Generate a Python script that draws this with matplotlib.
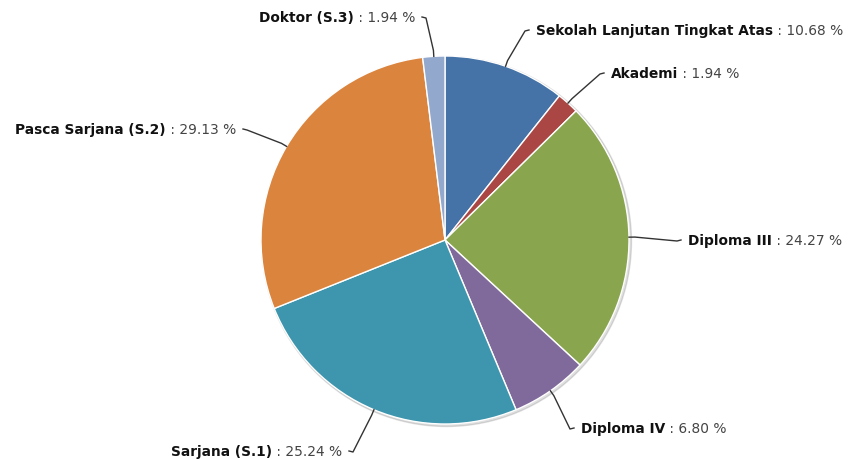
import numpy as np
import matplotlib
matplotlib.use("Agg")
import matplotlib.pyplot as plt

# data
labels = ["Sekolah Lanjutan Tingkat Atas", "Akademi", "Diploma III", "Diploma IV",
          "Sarjana (S.1)", "Pasca Sarjana (S.2)", "Doktor (S.3)"]
values = [10.68, 1.94, 24.27, 6.80, 25.24, 29.13, 1.94]
colors = ["#4572A7", "#AA4643", "#89A54E", "#80699B", "#3D96AE", "#DB843D", "#92A8CD"]

# where the labels sit (pixels, y down) and which side the text grows to
label_pos = [(536, 31, "left"), (611, 74, "left"), (688, 241, "left"), (581, 429, "left"),
             (342, 452, "right"), (236, 130, "right"), (415, 18, "right")]

W, H = 852, 460
cx, cy, r = 445, 241, 184

fig = plt.figure(figsize=(W / 100, H / 100), dpi=100)
ax = fig.add_axes([0, 0, 1, 1])

# faint shadow under the pie
shadow = plt.Circle((cx + 1.5, cy + 1.5), r + 1, color="#000000", alpha=0.12, zorder=0)
ax.add_patch(shadow)

# y axis runs downwards, so counterclockwise in data is clockwise on screen
ax.pie(values, colors=colors, startangle=-90, counterclock=True, center=(cx, cy), radius=r,
       wedgeprops=dict(edgecolor="white", linewidth=1))

ax.set_xlim(0, W)
ax.set_ylim(H, 0)
ax.set_aspect("equal")
ax.axis("off")

fracs = np.array(values) / sum(values)
mids = -90 + 360 * (np.cumsum(fracs) - fracs / 2)

fig.canvas.draw()
rend = fig.canvas.get_renderer()

fs = 9.9
for name, val, (tx, ty, side), m in zip(labels, values, label_pos, mids):
    a = np.deg2rad(m)
    ex, ey = cx + r * np.cos(a), cy + r * np.sin(a)
    mx, my = cx + (r + 6) * np.cos(a), cy + (r + 6) * np.sin(a)
    s = 1 if side == "left" else -1
    end = tx - s * 7
    hook = tx - s * 11
    ax.plot([end, hook, mx, ex], [ty, ty + 1, my, ey], color="#333333", lw=1, zorder=3,
            solid_joinstyle="round")

    vtxt = " : %.2f %%" % val
    if side == "left":
        t1 = ax.text(tx, ty, name, fontsize=fs, fontweight="bold", color="#111111",
                     ha="left", va="center")
        bb = t1.get_window_extent(rend)
        x2 = ax.transData.inverted().transform((bb.x1, 0))[0]
        ax.text(x2, ty, vtxt, fontsize=fs, color="#444444", ha="left", va="center")
    else:
        t2 = ax.text(tx, ty, vtxt, fontsize=fs, color="#444444", ha="right", va="center")
        bb = t2.get_window_extent(rend)
        x1 = ax.transData.inverted().transform((bb.x0, 0))[0]
        ax.text(x1, ty, name, fontsize=fs, fontweight="bold", color="#111111",
                ha="right", va="center")

fig.savefig("out.png", dpi=100)
